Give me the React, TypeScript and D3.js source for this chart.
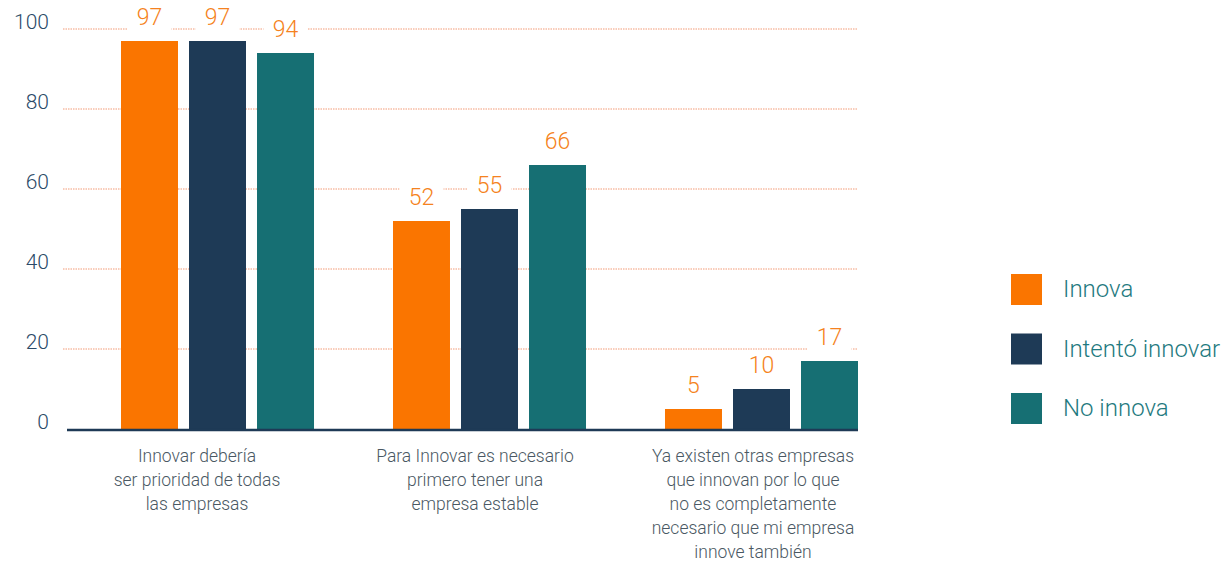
import React from "react";
import * as d3 from "d3";

const categories = [
  ["Innovar debería", "ser prioridad de todas", "las empresas"],
  ["Para Innovar es necesario", "primero tener una", "empresa estable"],
  ["Ya existen otras empresas", "que innovan por lo que", "no es completamente", "necesario que mi empresa", "innove también"],
];
const categoryKeys = ["c1", "c2", "c3"];
const seriesNames = ["Innova", "Intentó innovar", "No innova"];
const seriesColors = ["#FA7500", "#1E3A56", "#166F73"];
const innova = [97, 52, 5];
const intento = [97, 55, 10];
const noInnova = [94, 66, 17];
const yTicks = [0, 20, 40, 60, 80, 100];

const W = 1225;
const H = 562;
const FONT = "Roboto, 'Open Sans', sans-serif";

export default function App() {
  const series = [innova, intento, noInnova];
  const y = d3.scaleLinear().domain([0, 100]).range([429, 29]);
  const x0 = d3.scaleBand<string>().domain(categoryKeys).range([121, 858]).paddingInner(0.2904).paddingOuter(0);
  const x1 = d3.scaleBand<string>().domain(seriesNames).range([0, x0.bandwidth()]).paddingInner(0.162).paddingOuter(0);
  const xl = d3.scaleBand<string>().domain(categoryKeys).range([58, 892]).padding(0);

  const labelBoxes: { x: number; y: number; v: number }[] = [];
  categoryKeys.forEach((c, ci) => {
    seriesNames.forEach((s, si) => {
      const v = series[si][ci];
      labelBoxes.push({ x: (x0(c) as number) + (x1(s) as number) + x1.bandwidth() / 2, y: y(v) - 24, v });
    });
  });

  return (
    <svg width={W} height={H} style={{ position: "absolute", left: 0, top: 0, background: "#fff" }}>
      <rect x={0} y={0} width={W} height={H} fill="#fff" />
      {/* gridlines */}
      {yTicks.filter((t) => t > 0).map((t) => (
        <line key={t} x1={63} x2={858} y1={y(t)} y2={y(t)} stroke="#F39A76" strokeWidth={1} strokeDasharray="1.5 1" />
      ))}
      {/* y tick labels */}
      {yTicks.map((t) => (
        <text key={t} x={49} y={y(t) - 7} textAnchor="end" dominantBaseline="central" fontFamily={FONT} fontWeight={300} fontSize={21} fill="#2B4A68">
          {t}
        </text>
      ))}
      {/* bars */}
      {categoryKeys.map((c, ci) => (
        <g key={c} transform={`translate(${x0(c)},0)`}>
          {seriesNames.map((s, si) => {
            const v = series[si][ci];
            return <rect key={s} x={x1(s)} y={y(v)} width={x1.bandwidth()} height={y(0) - y(v)} fill={seriesColors[si]} />;
          })}
        </g>
      ))}
      {/* axis line */}
      <line x1={67} x2={858} y1={430} y2={430} stroke="#1E3A56" strokeWidth={2.5} />
      {/* value labels */}
      {labelBoxes.map((b, i) => (
        <g key={i}>
          <rect x={b.x - 22} y={b.y - 13} width={44} height={26} fill="#fff" />
          <text x={b.x} y={b.y} textAnchor="middle" dominantBaseline="central" fontFamily={FONT} fontWeight={300} fontSize={23} fill="#F58220">
            {b.v}
          </text>
        </g>
      ))}
      {/* category labels */}
      {categoryKeys.map((c, ci) => (
        <text key={c} textAnchor="middle" fontFamily={FONT} fontWeight={300} fontSize={17.5} fill="#4A5863">
          {categories[ci].map((line, li) => (
            <tspan key={li} x={(xl(c) as number) + xl.bandwidth() / 2} y={456 + li * 24} dominantBaseline="central">
              {line}
            </tspan>
          ))}
        </text>
      ))}
      {/* legend */}
      {seriesNames.map((s, si) => (
        <g key={s} transform={`translate(1011,${274 + si * 59.5})`}>
          <rect x={0} y={0} width={31} height={31} fill={seriesColors[si]} />
          <text x={52} y={15} dominantBaseline="central" fontFamily={FONT} fontWeight={300} fontSize={24} fill="#1F7A80">
            {s}
          </text>
        </g>
      ))}
    </svg>
  );
}
